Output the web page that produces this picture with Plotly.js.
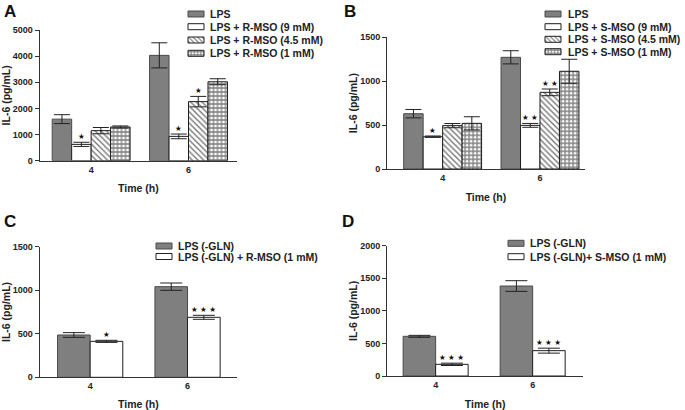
<!DOCTYPE html>
<html><head><meta charset="utf-8">
<script src="https://cdn.plot.ly/plotly-3.0.1.min.js"></script>
<style>html,body{margin:0;padding:0;background:#fff}</style>
</head><body><div id="chart" style="width:685px;height:410px"></div>
<script>
// ---------- DATA ----------
const times = ['4', '6'];

// Panel A (R-MSO)
const aNames = ['LPS', 'LPS + R-MSO (9 mM)', 'LPS + R-MSO (4.5 mM)', 'LPS + R-MSO (1 mM)'];
const aLPS = [1590, 4030];   const aLPSerr = [170, 480];
const aR9 = [625, 930];      const aR9err = [80, 90];
const aR45 = [1150, 2260];   const aR45err = [120, 200];
const aR1 = [1290, 3020];    const aR1err = [40, 115];
const aSig = [['', ''], ['★', '★'], ['', '★'], ['', '']];

// Panel B (S-MSO)
const bNames = ['LPS', 'LPS + S-MSO (9 mM)', 'LPS + S-MSO (4.5 mM)', 'LPS + S-MSO (1 mM)'];
const bLPS = [630, 1272];    const bLPSerr = [48, 75];
const bS9 = [368, 497];      const bS9err = [8, 22];
const bS45 = [494, 873];     const bS45err = [24, 38];
const bS1 = [520, 1113];     const bS1err = [75, 137];
const bSig = [['', ''], ['★', '★★'], ['', '★★'], ['', '']];

// Panel C (-GLN, R-MSO)
const cNames = ['LPS (-GLN)', 'LPS (-GLN) + R-MSO (1 mM)'];
const cLPS = [486, 1041];    const cLPSerr = [27, 42];
const cR1 = [413, 689];      const cR1err = [12, 23];
const cSig = [['', ''], ['★', '★★★']];

// Panel D (-GLN, S-MSO)
const dNames = ['LPS (-GLN)', 'LPS (-GLN)+ S-MSO (1 mM)'];
const dLPS = [609, 1381];    const dLPSerr = [15, 82];
const dS1 = [179, 389];      const dS1err = [18, 38];
const dSig = [['', ''], ['★★★', '★★★']];

const yTicksA = [0, 1000, 2000, 3000, 4000, 5000];
const yTicksB = [0, 500, 1000, 1500];
const yTicksC = [0, 500, 1000, 1500];
const yTicksD = [0, 500, 1000, 1500, 2000];

// ---------- STYLE ----------
const W = 685, H = 410;
const px = v => v / W, py = v => 1 - v / H;
const FONT = 'Liberation Sans, Arial, Helvetica, sans-serif';
const INK = '#222';
const lineBlack = {color: '#1e1e1e', width: 1};
const stGray = {color: '#7f7f7f', line: {color: '#4a4a4a', width: 1}};
const stWhite = {color: '#ffffff', line: lineBlack};
const stHatch = {color: '#ffffff', line: lineBlack,
  pattern: {shape: '\\', fgcolor: '#777777', bgcolor: '#ffffff', size: 4, solidity: 0.35}};
const stCheck = {color: '#ffffff', line: lineBlack,
  pattern: {shape: '+', fgcolor: '#808080', bgcolor: '#ffffff', size: 4, solidity: 0.55}};

function bar(name, vals, errs, marker, ax, legendId, capw, extra) {
  return Object.assign({
    type: 'bar', name: name, x: times, y: vals,
    xaxis: 'x' + ax, yaxis: 'y' + ax, legend: legendId,
    marker: marker,
    error_y: {type: 'data', array: errs, visible: true, color: INK, thickness: 1, width: capw}
  }, extra || {});
}

const data = [
  bar(aNames[0], aLPS, aLPSerr, stGray, '', 'legend', 8),
  bar(aNames[1], aR9, aR9err, stWhite, '', 'legend', 8),
  bar(aNames[2], aR45, aR45err, stHatch, '', 'legend', 8),
  bar(aNames[3], aR1, aR1err, stCheck, '', 'legend', 8),
  bar(bNames[0], bLPS, bLPSerr, stGray, '2', 'legend2', 8),
  bar(bNames[1], bS9, bS9err, stWhite, '2', 'legend2', 8),
  bar(bNames[2], bS45, bS45err, stHatch, '2', 'legend2', 8),
  bar(bNames[3], bS1, bS1err, stCheck, '2', 'legend2', 8),
  bar(cNames[0], cLPS, cLPSerr, stGray, '3', 'legend3', 11, {offset: -0.335, width: 0.335}),
  bar(cNames[1], cR1, cR1err, stWhite, '3', 'legend3', 11, {offset: 0, width: 0.335}),
  bar(dNames[0], dLPS, dLPSerr, stGray, '4', 'legend4', 11, {offset: -0.335, width: 0.335}),
  bar(dNames[1], dS1, dS1err, stWhite, '4', 'legend4', 11, {offset: 0, width: 0.335})
];

// ---------- AXES ----------
const tickFont = {family: FONT, size: 9, color: INK, weight: 'bold'};
const titleFont = {family: FONT, size: 10.5, color: INK, weight: 'bold'};
function xAx(d0, d1, anchor, range) {
  return {domain: [px(d0), px(d1)], anchor: anchor, type: 'category', range: range,
    showline: true, linecolor: '#333', linewidth: 1, ticks: '', showgrid: false, zeroline: false,
    tickfont: tickFont, title: {text: 'Time (h)', font: titleFont, standoff: 11}, fixedrange: true};
}
function yAx(p0, p1, anchor, ticks, standoff) {
  return {domain: [py(p0), py(p1)], anchor: anchor, range: [ticks[0], ticks[ticks.length - 1]],
    tickvals: ticks, showline: true, linecolor: '#333', linewidth: 1, ticks: 'outside', ticklen: 4,
    tickcolor: '#333', showgrid: false, zeroline: false, tickfont: tickFont,
    title: {text: 'IL-6 (pg/mL)', font: titleFont, standoff: standoff}, fixedrange: true};
}

// ---------- ANNOTATIONS ----------
const annotations = [];
const centers4 = [-0.3, -0.1, 0.1, 0.3];
const centers2 = [-0.1675, 0.1675];
function stars(sig, vals, errs, centers, ax) {
  sig.forEach((row, s) => row.forEach((txt, i) => {
    if (!txt) return;
    annotations.push({xref: 'x' + ax, yref: 'y' + ax, x: i + centers[s], y: vals[s][i] + errs[s][i],
      text: txt.split('').join(' '), showarrow: false, yanchor: 'bottom', yshift: -1,
      font: {family: 'DejaVu Sans', size: 7.5, color: '#111'}});
  }));
}
stars(aSig, [aLPS, aR9, aR45, aR1], [aLPSerr, aR9err, aR45err, aR1err], centers4, '');
stars(bSig, [bLPS, bS9, bS45, bS1], [bLPSerr, bS9err, bS45err, bS1err], centers4, '2');
stars(cSig, [cLPS, cR1], [cLPSerr, cR1err], centers2, '3');
stars(dSig, [dLPS, dS1], [dLPSerr, dS1err], centers2, '4');

[['A', 2, 0], ['B', 346, 0], ['C', 2, 210], ['D', 344, 210]].forEach(p => {
  annotations.push({xref: 'paper', yref: 'paper', x: px(p[1]), y: py(p[2]), xanchor: 'left', yanchor: 'top',
    text: p[0], showarrow: false, font: {family: FONT, size: 17, color: '#111', weight: 'bold'}});
});

const legFont = {family: FONT, size: 10.5, color: INK, weight: 'bold'};
function leg(x, y) {
  return {x: px(x), y: py(y), xanchor: 'left', yanchor: 'top', bgcolor: 'rgba(0,0,0,0)',
    borderwidth: 0, font: legFont, traceorder: 'normal', itemclick: false, itemdoubleclick: false};
}

const layout = {
  width: W, height: H, margin: {l: 0, r: 0, t: 0, b: 0},
  paper_bgcolor: '#fff', plot_bgcolor: '#fff',
  barmode: 'group', bargap: 0.2, bargroupgap: 0,
  xaxis: xAx(40, 240, 'y', [-0.53, 1.5]),
  yaxis: yAx(160.7, 30, 'x', yTicksA, 1),
  xaxis2: xAx(391.7, 591.7, 'y2', [-0.57, 1.46]),
  yaxis2: yAx(169, 37.3, 'x2', yTicksB, 0),
  xaxis3: xAx(40, 240, 'y3', [-0.52, 1.51]),
  yaxis3: yAx(377.3, 246.7, 'x3', yTicksC, 1),
  xaxis4: xAx(391.7, 590, 'y4', [-0.5, 1.52]),
  yaxis4: yAx(376, 245.7, 'x4', yTicksD, 0),
  legend: leg(176, 2), legend2: leg(533, 2), legend3: leg(145, 236), legend4: leg(496, 233),
  annotations: annotations, showlegend: true
};

// target legend geometry (page px): swatch left, text left, row centres
const legendTargets = {
  legend: {left: 188, textLeft: 210, rows: [14, 26.7, 40, 53.3]},
  legend2: {left: 545, textLeft: 568, rows: [14, 26.7, 39.3, 51.7]},
  legend3: {left: 156, textLeft: 178, rows: [246, 256.5]},
  legend4: {left: 508, textLeft: 530, rows: [243.3, 256.7]}
};

const gd = document.getElementById('chart');
Plotly.newPlot(gd, data, layout, {staticPlot: true, displayModeBar: false}).then(() => {
  const base = gd.getBoundingClientRect();
  Object.keys(legendTargets).forEach(id => {
    const t = legendTargets[id];
    const lg = gd.querySelector('.infolayer > g.' + id) || gd.querySelector('g.' + id);
    if (!lg) return;
    lg.querySelectorAll('[clip-path]').forEach(e => e.removeAttribute('clip-path'));
    lg.querySelectorAll('g.traces').forEach((it, i) => {
      const sw = it.querySelector('g.legendpoints path');
      const tx = it.querySelector('text');
      if (!sw || !tx || t.rows[i] === undefined) return;
      sw.setAttribute('d', 'M8,3H-8V-3H8Z');
      const r = sw.getBoundingClientRect();
      const m = (it.getAttribute('transform') || '').match(/translate\(\s*([-\d.e]+)[\s,]*([-\d.e]+)?\s*\)/);
      const ox = m ? parseFloat(m[1]) : 0, oy = (m && m[2]) ? parseFloat(m[2]) : 0;
      const dx = (t.left + base.left) - r.left;
      const dy = (t.rows[i] + base.top) - (r.top + r.height / 2);
      it.setAttribute('transform', 'translate(' + (ox + dx) + ',' + (oy + dy) + ')');
      const tr = tx.getBoundingClientRect();
      const tdx = (t.textLeft + base.left) - tr.left;
      tx.setAttribute('x', (parseFloat(tx.getAttribute('x')) || 0) + tdx);
    });
  });
});
</script></body></html>
